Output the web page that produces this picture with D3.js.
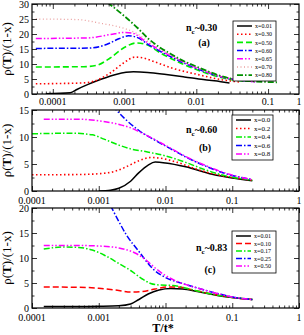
<!DOCTYPE html>
<html>
<head>
<meta charset="utf-8">
<script src="https://cdn.jsdelivr.net/npm/d3@7"></script>
<style>
body { margin: 0; background: #fff; }
svg { font-family: "Liberation Serif", "DejaVu Serif", serif; }
</style>
</head>
<body>
<div id="chart"></div>
<script>
// ---- data: [T/t*, rho/(1-x)] ----
const panelA_labels = ["x=0.01", "x=0.30", "x=0.50", "x=0.60", "x=0.65", "x=0.70", "x=0.80"];
const panelA_x001 = [[8e-5,0.05],[1.75e-4,0.4],[2.2e-4,1.6],[3.1e-4,3.2],[4.8e-4,5.0],[7.8e-4,6.6],[1.33e-3,7.4],[2.1e-3,7.2],[3.8e-3,6.5],[6.8e-3,5.7],[0.0125,4.8],[0.022,4.1],[0.029,3.7]];
const panelA_x030 = [[5.8e-5,3.4],[1.25e-4,3.5],[2.7e-4,3.7],[4e-4,4.5],[6.3e-4,7],[9.9e-4,10.5],[1.39e-3,12.3],[1.83e-3,12.0],[2.7e-3,10.6],[4.8e-3,8.5],[0.0104,6.5],[0.022,4.8],[0.04,4.0]];
const panelA_x050 = [[5.8e-5,9],[2.7e-4,9.1],[4e-4,9.5],[6.3e-4,12],[9.9e-4,15.5],[1.46e-3,17],[2e-3,16.5],[3.26e-3,13.5],[5.8e-3,10.5],[0.0104,8],[0.022,5.5],[0.05,4.2]];
const panelA_x060 = [[5.8e-5,15.2],[3.1e-4,15.3],[5.6e-4,16.5],[8.5e-4,18.5],[1.13e-3,19.4],[1.52e-3,18.8],[2.13e-3,16.5],[3.26e-3,14],[5.8e-3,11],[0.0104,8.4],[0.022,5.7],[0.066,4.1]];
const panelA_x065 = [[5.8e-5,18.5],[3.1e-4,18.7],[6.3e-4,19.8],[9.9e-4,20.5],[1.33e-3,20.2],[1.83e-3,18],[2.7e-3,15.5],[5.8e-3,11.3],[0.0104,8.6],[0.022,5.8],[0.066,4.1]];
const panelA_x070 = [[5.8e-5,25],[2.2e-4,24.8],[4.8e-4,23.5],[8.5e-4,22.3],[1.52e-3,20],[2.13e-3,17.5],[3.26e-3,14.8],[5.8e-3,11.5],[0.0104,8.8],[0.022,6],[0.083,4.1]];
const panelA_x080 = [[5.8e-4,30.5],[9.9e-4,26],[1.52e-3,22],[2.13e-3,18.5],[3.26e-3,15.2],[4.3e-3,13.5],[5.8e-3,11.7],[0.0104,9],[0.022,6],[0.04,4.6],[0.133,3.9]];

const panelB_labels = ["x=0.0", "x=0.2", "x=0.4", "x=0.6", "x=0.8"];
const panelB_x00 = [[1e-3,0.02],[1.5e-3,0.15],[2e-3,0.5],[3e-3,1.8],[4e-3,3.4],[5.5e-3,4.8],[7e-3,5.35],[0.01,5.2],[0.02,4.5],[0.05,3.1],[0.1,2.4],[0.2,1.9]];
const panelB_x02 = [[1e-4,3.0],[5e-4,3.05],[1e-3,3.2],[1.7e-3,3.6],[2.5e-3,4.4],[4e-3,5.6],[6e-3,6.2],[8e-3,6.1],[0.015,5.3],[0.03,4.0],[0.06,3.0],[0.1,2.5],[0.2,2.0]];
const panelB_x04 = [[1e-4,10.6],[4e-4,10.7],[8e-4,10.4],[1.2e-3,9.6],[2e-3,8.5],[3e-3,7.8],[5e-3,7.3],[0.01,6.5],[0.02,5.3],[0.04,3.9],[0.08,2.8],[0.15,2.2],[0.2,2.0]];
const panelB_x06 = [[1.6e-3,15.8],[2.5e-3,13.3],[4e-3,11.2],[7e-3,9.4],[0.012,7.8],[0.02,6.3],[0.04,4.6],[0.08,3.2],[0.15,2.4],[0.2,2.1]];
const panelB_x08 = [[1.5e-4,13.3],[5e-4,13.3],[1e-3,13.0],[1.6e-3,12.6],[2.2e-3,12.2],[3e-3,11.7],[4e-3,11.0],[7e-3,9.5],[0.012,7.9],[0.02,6.4],[0.04,4.7],[0.08,3.3],[0.15,2.4],[0.2,2.1]];

const panelC_labels = ["x=0.01", "x=0.10", "x=0.17", "x=0.25", "x=0.50"];
const panelC_x001 = [[1.5e-4,0.3],[5e-4,0.3],[1e-3,0.35],[2e-3,0.45],[3e-3,0.8],[4e-3,1.7],[5.5e-3,2.8],[8e-3,3.6],[0.012,3.9],[0.018,3.8],[0.03,3.3],[0.06,2.5],[0.1,2.1],[0.2,1.7]];
const panelC_x010 = [[1.5e-4,4.2],[5e-4,4.15],[1e-3,3.95],[2e-3,3.5],[3e-3,3.2],[4.5e-3,3.3],[7e-3,3.8],[0.011,4.2],[0.015,4.2],[0.03,3.4],[0.06,2.6],[0.1,2.1],[0.2,1.7]];
const panelC_x017 = [[1.5e-4,11.8],[3e-4,12.2],[5e-4,12.1],[8e-4,11.6],[1.2e-3,10.6],[2e-3,8.9],[3e-3,7.5],[4.5e-3,5.8],[6e-3,4.9],[8e-3,4.6],[0.013,4.5],[0.02,4.0],[0.04,3.0],[0.08,2.3],[0.2,1.7]];
const panelC_x025 = [[1.5e-3,20.5],[2e-3,17.3],[2.6e-3,14.6],[4e-3,11.3],[6.5e-3,7.8],[0.01,6.1],[0.017,5.0],[0.03,4.0],[0.06,2.9],[0.1,2.2],[0.2,1.7]];
const panelC_x050 = [[1.5e-4,12.5],[5e-4,12.5],[1e-3,12.4],[2e-3,12.0],[3.5e-3,11.0],[5e-3,9.7],[7e-3,8.0],[0.01,6.5],[0.015,5.3],[0.03,4.0],[0.06,2.9],[0.1,2.2],[0.2,1.7]];

const xTickLabels = ["0.0001", "0.001", "0.01", "0.1", "1"];

// line styles
const sBlack = { color: "#000", dash: null, w: 1.5 };
const sRedDot = { color: "#ff0000", dash: "1.5,2.5", w: 1.6 };
const sRedDash = { color: "#ff0000", dash: "6,3", w: 1.5 };
const sGreenDash = { color: "#00ee00", dash: "6,3", w: 1.6 };
const sGreenDD = { color: "#00ee00", dash: "6,2,1.5,2", w: 1.5 };
const sBlueDD = { color: "#0000ff", dash: "6,2,1.5,2", w: 1.5 };
const sMagDDD = { color: "#ff00ff", dash: "6,2,1.5,2,1.5,2", w: 1.5 };
const sPinkDot = { color: "#eaa0a0", dash: "1,2.5", w: 1.3 };
const sDkGreen = { color: "#009000", dash: "6,2,1.5,2", w: 1.8 };

const W = 304, H = 335;
const svg = d3.select("#chart").append("svg").attr("width", W).attr("height", H);

const panels = [
    {
        id: "a", top: 4, bottom: 94, xdom: [Math.pow(10, -4.29), Math.pow(10, -0.569)], endLabel: "1",
        ymax: 30, yticks: [0,5,10,15,20,25,30],
        series: [panelA_x001, panelA_x030, panelA_x050, panelA_x060, panelA_x065, panelA_x070, panelA_x080],
        styles: [sBlack, sRedDot, sGreenDash, sBlueDD, sMagDDD, sPinkDot, sDkGreen],
        labels: panelA_labels, nc: "0.30",
        leg: { x: 233, y: 21, w: 43, h: 60, row: 8.2, fs: 6 },
        ncPos: [186, 31], tagPos: [204, 46], tickLabelY: 105
    },
    {
        id: "b", top: 110, bottom: 191, xdom: [1e-4, 1],
        ymax: 15, yticks: [0,5,10,15],
        series: [panelB_x00, panelB_x02, panelB_x04, panelB_x06, panelB_x08],
        styles: [sBlack, sRedDot, sGreenDD, sBlueDD, sMagDDD],
        labels: panelB_labels, nc: "0.60",
        leg: { x: 232, y: 115, w: 41, h: 45, row: 8.5, fs: 7 },
        ncPos: [186, 133], tagPos: [205, 151], tickLabelY: 203.5
    },
    {
        id: "c", top: 208, bottom: 308, xdom: [1e-4, 1],
        ymax: 20, yticks: [0,5,10,15,20],
        series: [panelC_x001, panelC_x010, panelC_x017, panelC_x025, panelC_x050],
        styles: [sBlack, sRedDash, sGreenDD, sBlueDD, sMagDDD],
        labels: panelC_labels, nc: "0.83",
        leg: { x: 232, y: 231, w: 44, h: 42, row: 7.5, fs: 6 },
        ncPos: [196, 251], tagPos: [210, 273], tickLabelY: 320.5
    }
];

const left = 32, right = 299;

panels.forEach(p => {
    const x = d3.scaleLog().domain(p.xdom).range([left, right]);
    const y = d3.scaleLinear().domain([0, p.ymax]).range([p.bottom, p.top]);

    svg.append("clipPath").attr("id", "clip" + p.id)
        .append("rect").attr("x", left).attr("y", p.top)
        .attr("width", right - left).attr("height", p.bottom - p.top);

    const line = d3.line()
        .curve(d3.curveMonotoneX)
        .x(d => x(d[0]))
        .y(d => y(d[1]));

    const g = svg.append("g").attr("clip-path", `url(#clip${p.id})`);
    p.series.forEach((s, i) => {
        const st = p.styles[i];
        g.append("path")
            .datum(s)
            .attr("fill", "none")
            .attr("stroke", st.color)
            .attr("stroke-width", st.w)
            .attr("stroke-dasharray", st.dash)
            .attr("d", line);
    });

    // ticks (inward, mirrored)
    const isDecade = t => Math.abs(Math.log10(t) - Math.round(Math.log10(t))) < 1e-9;
    const majorX = x.ticks().filter(isDecade);
    const minorX = x.ticks().filter(t => !isDecade(t));

    const xAxisB = d3.axisTop(x).tickValues(majorX).tickSize(5).tickFormat("");
    const xAxisBm = d3.axisTop(x).tickValues(minorX).tickSize(2.5).tickFormat("");
    const xAxisT = d3.axisBottom(x).tickValues(majorX).tickSize(5).tickFormat("");
    const xAxisTm = d3.axisBottom(x).tickValues(minorX).tickSize(2.5).tickFormat("");

    [[xAxisB, p.bottom], [xAxisBm, p.bottom], [xAxisT, p.top], [xAxisTm, p.top]].forEach(([ax, yy]) => {
        svg.append("g").attr("transform", `translate(0,${yy})`).call(ax)
            .call(a => a.select(".domain").remove());
    });

    const minorY = d3.range(2.5, p.ymax, 5);
    [[d3.axisRight(y).tickValues(p.yticks), left, 5], [d3.axisRight(y).tickValues(minorY), left, 2.5],
     [d3.axisLeft(y).tickValues(p.yticks), right, 5], [d3.axisLeft(y).tickValues(minorY), right, 2.5]]
        .forEach(([ax, xx, sz]) => {
            svg.append("g").attr("transform", `translate(${xx},0)`)
                .call(ax.tickSize(sz).tickFormat(""))
                .call(a => a.select(".domain").remove());
        });

    svg.selectAll(".tick line").attr("stroke", "#000").attr("stroke-width", 0.8);

    svg.append("rect").attr("x", left).attr("y", p.top)
        .attr("width", right - left).attr("height", p.bottom - p.top)
        .attr("fill", "none").attr("stroke", "#000").attr("stroke-width", 1.2);

    // tick labels
    majorX.forEach(t => {
        const lbl = xTickLabels[Math.round(Math.log10(t)) + 4];
        if (lbl === undefined) return;
        svg.append("text")
            .attr("x", x(t)).attr("y", p.tickLabelY)
            .attr("text-anchor", "middle")
            .style("font-size", "10px")
            .text(lbl);
    });
    if (p.endLabel) {
        svg.append("text")
            .attr("x", right).attr("y", p.tickLabelY)
            .attr("text-anchor", "middle")
            .style("font-size", "10px")
            .text(p.endLabel);
    }
    p.yticks.forEach(t => {
        svg.append("text")
            .attr("x", left - 3).attr("y", y(t)).attr("dy", "0.35em")
            .attr("text-anchor", "end")
            .style("font-size", "10px")
            .text(t);
    });

    // y title
    const yt = svg.append("text")
        .attr("transform", `translate(11,${(p.top + p.bottom) / 2}) rotate(-90)`)
        .attr("text-anchor", "middle")
        .style("font-size", "13px");
    yt.append("tspan").text("ρ(");
    yt.append("tspan").style("font-weight", "bold").text("T");
    yt.append("tspan").text(")/(1-x)");

    // annotations
    const nc = svg.append("text").attr("x", p.ncPos[0]).attr("y", p.ncPos[1])
        .style("font-size", "10px").style("font-weight", "bold");
    nc.append("tspan").text("n");
    nc.append("tspan").attr("dy", 3).style("font-size", "7px").text("c");
    nc.append("tspan").attr("dy", -3).text("~" + p.nc);

    svg.append("text").attr("x", p.tagPos[0]).attr("y", p.tagPos[1])
        .attr("text-anchor", "middle")
        .style("font-size", "10px").style("font-weight", "bold")
        .text("(" + p.id + ")");

    // legend
    const L = p.leg;
    svg.append("rect").attr("x", L.x).attr("y", L.y).attr("width", L.w).attr("height", L.h)
        .attr("fill", "#fff").attr("stroke", "#000").attr("stroke-width", 0.8);
    p.labels.forEach((lab, i) => {
        const st = p.styles[i];
        const yy = L.y + 5 + i * L.row;
        svg.append("line")
            .attr("x1", L.x + 4).attr("x2", L.x + 19).attr("y1", yy).attr("y2", yy)
            .attr("stroke", st.color).attr("stroke-width", st.w)
            .attr("stroke-dasharray", st.dash);
        svg.append("text")
            .attr("x", L.x + 22).attr("y", yy).attr("dy", "0.35em")
            .style("font-size", L.fs + "px")
            .text(lab);
    });
});

// x title
svg.append("text").attr("x", 163).attr("y", 332)
    .attr("text-anchor", "middle")
    .style("font-size", "12px").style("font-weight", "bold")
    .text("T/t*");
</script>
</body>
</html>
